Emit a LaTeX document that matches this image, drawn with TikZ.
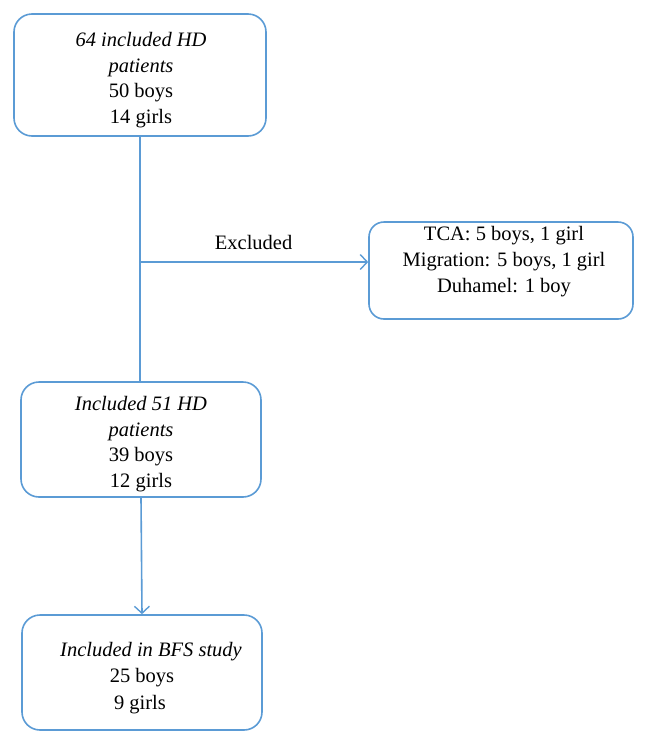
\documentclass[tikz,border=0pt]{standalone}
\usepackage{fontspec}
\setmainfont{Liberation Serif}
\usetikzlibrary{arrows.meta}
\definecolor{lineblue}{HTML}{5B9BD5}
\tikzset{
  box/.style={draw=lineblue, line width=1.6pt, rounded corners=18pt, inner sep=0pt},
  txt/.style={font=\fontsize{20.5}{25.7}\selectfont, align=center, inner sep=0pt, text=black},
  conn/.style={draw=lineblue, line width=1.6pt},
  arr/.style={conn, -{Straight Barb[length=7pt,width=15pt,line width=1.4pt]}}
}
\begin{document}
\begin{tikzpicture}[x=1pt,y=-1pt]
\useasboundingbox (0,0) rectangle (658,745);
% boxes
\node[box, minimum width=252pt, minimum height=122pt] (b1) at (140,75) {};
\node[box, minimum width=264pt, minimum height=97pt, rounded corners=15pt] (b2) at (501,270.5) {};
\node[box, minimum width=240pt, minimum height=115pt] (b3) at (141,439.5) {};
\node[box, minimum width=240pt, minimum height=115pt] (b4) at (142,672.5) {};
% texts
\node[txt] (t1) at (141,80) {\textit{64 included HD}\\\textit{patients}\\50 boys\\14 girls};
\node[txt] (t2) at (504,261.5) {TCA: 5 boys, 1 girl\\Migration: 5 boys, 1 girl\\Duhamel: 1 boy};
\node[txt] (t3) at (141,444) {\textit{Included 51 HD}\\\textit{patients}\\39 boys\\12 girls};
\node[txt] (t4a) at (151,652) {\textit{Included in BFS study}};
\node[txt] (t4b) at (142,678) {25 boys};
\node[txt] (t4c) at (140,705) {9 girls};
% connectors
\coordinate (j) at (139,262);
\draw[conn] (b1.south) -- (b3.north -| b1.south);
\draw[arr] (j) -- node[txt, above=12pt] (ex) {Excluded} (j -| b2.west);
\draw[arr] (b3.south) -- (b4.north);
\end{tikzpicture}
\end{document}
